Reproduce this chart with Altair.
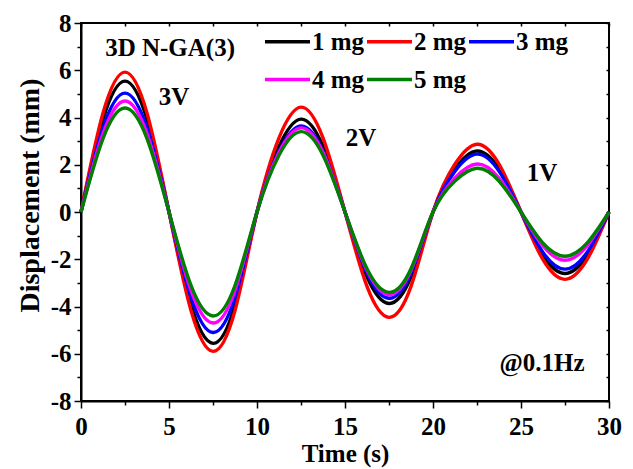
import altair as alt
import pandas as pd

t = [i * 1.25 for i in range(25)]
series = ["1 mg", "2 mg", "3 mg", "4 mg", "5 mg"]
colors = ["#000000", "#FF0000", "#0000FF", "#FF00FF", "#008000"]

y_1mg = [0, 3.92, 5.54, 3.92, 0, -3.93, -5.56, -3.93, 0, 2.78, 3.93, 2.78, 0,
         -2.74, -3.87, -2.74, 0, 1.82, 2.58, 1.82, 0, -1.84, -2.60, -1.84, 0]
y_2mg = [0, 4.19, 5.92, 4.19, 0, -4.17, -5.90, -4.17, 0, 3.14, 4.44, 3.14, 0,
         -3.15, -4.46, -3.15, 0, 2.03, 2.87, 2.03, 0, -2.02, -2.85, -2.02, 0]
y_3mg = [0, 3.56, 5.03, 3.56, 0, -3.61, -5.10, -3.61, 0, 2.57, 3.64, 2.57, 0,
         -2.58, -3.65, -2.58, 0, 1.73, 2.45, 1.73, 0, -1.71, -2.42, -1.71, 0]
y_4mg = [0, 3.32, 4.70, 3.32, 0, -3.32, -4.70, -3.32, 0, 2.52, 3.56, 2.52, 0,
         -2.47, -3.50, -2.47, 0, 1.44, 2.03, 1.44, 0, -1.44, -2.04, -1.44, 0]
y_5mg = [0, 3.11, 4.40, 3.11, 0, -3.11, -4.40, -3.11, 0, 2.40, 3.40, 2.40, 0,
         -2.40, -3.40, -2.40, 0, 1.31, 1.85, 1.31, 0, -1.32, -1.87, -1.32, 0]

ann_text = ["3D N-GA(3)", "3V", "2V", "1V", "@0.1Hz"]
ann_x = [5.06, 5.28, 15.91, 26.19, 26.2]
ann_y = [6.94, 4.87, 3.13, 1.65, -6.39]

x_ticks = [i * 2.5 for i in range(13)]
y_ticks = list(range(-8, 9))

rows = []
for name, ys in zip(series, [y_1mg, y_2mg, y_3mg, y_4mg, y_5mg]):
    for k, (tt, yy) in enumerate(zip(t, ys)):
        rows.append({"Time": tt, "Disp": yy, "Series": name, "ord": k})
df = pd.DataFrame(rows)
ann = pd.DataFrame({"label": ann_text, "x": ann_x, "y": ann_y})

FONT = "Liberation Serif"
xs = alt.Scale(domain=[0, 30], nice=False)
ys_ = alt.Scale(domain=[-8, 8], nice=False)

lines = alt.Chart(df).mark_line(strokeWidth=3.4, interpolate="natural").encode(
    x=alt.X("Time:Q", scale=xs,
            axis=alt.Axis(orient="bottom", values=x_ticks, title="Time (s)",
                          labelExpr="datum.value % 5 == 0 ? '' + datum.value : ''",
                          tickSize={"condition": {"test": "datum.value % 5 == 0", "value": 7}, "value": 4},
                          labelFlush=False, labelPadding=6, titlePadding=2)),
    y=alt.Y("Disp:Q", scale=ys_,
            axis=alt.Axis(orient="left", values=y_ticks, title="Displacement (mm)",
                          labelExpr="datum.value % 2 == 0 ? '' + datum.value : ''",
                          tickSize={"condition": {"test": "datum.value % 2 == 0", "value": 7}, "value": 4},
                          labelFlush=False, labelPadding=3, titlePadding=6, titleFontSize=28,
                          titleY=172)),
    color=alt.Color("Series:N", scale=alt.Scale(domain=series, range=colors),
                    legend=alt.Legend(orient="none", legendX=182, legendY=-6, columns=3,
                                      direction="horizontal",
                                      symbolType="stroke", symbolStrokeWidth=3.4, symbolSize=2025,
                                      labelFont=FONT, labelFontSize=25, labelFontWeight="bold",
                                      labelColor="black", columnPadding=-8, rowPadding=-30,
                                      labelOffset=0, title=None)),
    order="ord:Q",
)

texts = alt.Chart(ann).mark_text(font=FONT, fontSize=25, fontWeight="bold", color="black").encode(
    x=alt.X("x:Q", scale=xs,
            axis=alt.Axis(orient="top", values=x_ticks, labels=False, domain=False, title=None,
                          tickSize=3, offset=-3)),
    y=alt.Y("y:Q", scale=ys_,
            axis=alt.Axis(orient="right", values=y_ticks, labels=False, domain=False, title=None,
                          tickSize=3, offset=-3)),
    text="label:N",
)

chart = alt.layer(lines, texts).resolve_axis(x="independent", y="independent").properties(
    width=528, height=378,
    background="white",
    autosize=alt.AutoSizeParams(type="none"),
    padding={"left": 81, "top": 23, "right": 24, "bottom": 68},
).configure_view(stroke="black", strokeWidth=2).configure_axis(
    labelFont=FONT, titleFont=FONT, labelFontSize=25, titleFontSize=25,
    labelFontWeight="bold", titleFontWeight="bold", labelColor="black", titleColor="black",
    domainColor="black", tickColor="black", domainWidth=2, tickWidth=1.5, grid=False,
)

chart.save("out.html", embed_options={"renderer": "svg", "actions": False})
